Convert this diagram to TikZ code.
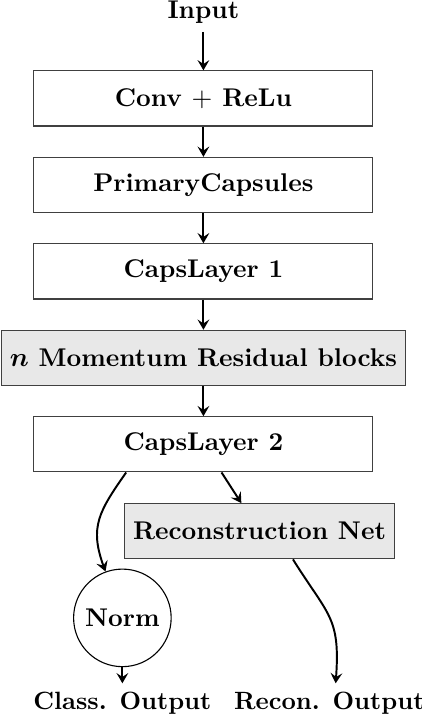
\documentclass[tikz,border=0pt]{standalone}
\usepackage{xcolor}
\definecolor{cline}{HTML}{404040}
\definecolor{cfill}{HTML}{E8E8E8}
\usepackage{tikz}
\usetikzlibrary{arrows.meta,positioning}

\begin{document}
\begin{tikzpicture}[
  font=\fontsize{10.5}{12.6}\selectfont\bfseries,
  node distance=12.4pt,
  box/.style={rectangle,draw=cline,line width=0.45pt,fill=white,minimum height=22.6pt,minimum width=139pt,inner sep=3.33pt,align=center},
  gbox/.style={box,fill=cfill,minimum width=0pt},
  normc/.style={circle,draw=black,line width=0.45pt,minimum size=40pt,inner sep=1pt},
  outlbl/.style={font=\fontsize{10.25}{12.3}\selectfont\bfseries},
  arr/.style={-{Stealth[length=4.2pt,width=4.8pt,inset=1.6pt]},line width=0.8pt}
]
\useasboundingbox (0,0) rectangle (173.02pt,-294.38pt);
\node (input) at (83.4pt,-4.9pt) {Input};
\node[box,below=of input.south,anchor=north,yshift=-3.4pt] (conv) {Conv $+$ ReLu};
\node[box,below=of conv] (primary) {PrimaryCapsules};
\node[box,below=of primary] (caps1) {CapsLayer 1};
\node[gbox,below=of caps1] (momentum) {{\boldmath$n$} Momentum Residual blocks};
\node[box,below=of momentum] (caps2) {CapsLayer 2};
\node[gbox,below=12.6pt of caps2.south west,anchor=north west,xshift=37.3pt] (recnet) {Reconstruction Net};
\node[normc,below=39.4pt of caps2.south west,xshift=36.5pt] (norm) {Norm};
\node[outlbl,below=6.6pt of norm] (classout) {Class. Output};
\node[outlbl,right=2.2pt of classout] (reconout) {Recon. Output};
% connectors
\draw[arr] (input) -- (conv);
\draw[arr] (conv) -- (primary);
\draw[arr] (primary) -- (caps1);
\draw[arr] (caps1) -- (momentum);
\draw[arr] (momentum) -- (caps2);
\draw[arr] (caps2) -- (recnet);
\draw[arr] (caps2.-160) to[out=-125,in=110,looseness=1.2] (norm);
\draw[arr] (recnet.-40) to[out=-58,in=86,looseness=1.3] (reconout.72);
\draw[arr] (norm) -- (classout);
\end{tikzpicture}
\end{document}
